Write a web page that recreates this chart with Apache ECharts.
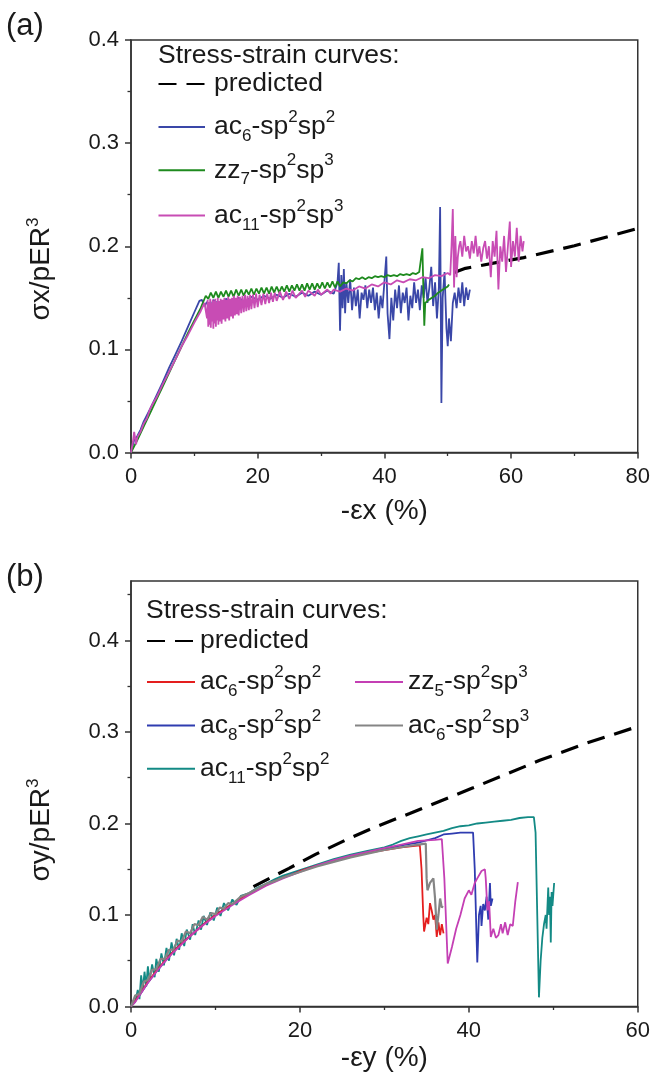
<!DOCTYPE html>
<html><head><meta charset="utf-8">
<script src="https://cdn.jsdelivr.net/npm/echarts@6/dist/echarts.min.js"></script>
<style>html,body{margin:0;padding:0;background:#fff}#c{width:653px;height:1089px}</style>
</head><body><div id="c"></div>
<script>
// ---------------- DATA ----------------
const xTicksA = [0, 20, 40, 60, 80];
const yTicksA = [0, 0.1, 0.2, 0.3, 0.4];
const xTicksB = [0, 20, 40, 60];
const yTicksB = [0, 0.1, 0.2, 0.3, 0.4];
const yMinorB = [0.05, 0.15, 0.25, 0.35, 0.45];

// panel (a)
const predictedA = [[51,0.1745],[52.8,0.1786],[62,0.189],[70,0.2005],[80,0.2172]];
const ac6A = [[0,0],[0.5,0.012],[1,0.016],[1.5,0.022],[2,0.03],[3,0.042],[4,0.055],[5,0.068],[6,0.082],[7,0.095],[8,0.108],[9,0.122],[10,0.136],[10.8,0.147],[11.2,0.148],[11.6,0.142],
 [12,0.146],[12.5,0.14],[13,0.148],[14,0.143],[15,0.149],[16,0.145],[17,0.15],[18,0.146],[19,0.151],[20,0.148],[21,0.152],[22,0.149],[23,0.153],[24,0.15],[25,0.154],[26,0.151],[27,0.155],[28,0.152],[29,0.156],[30,0.153],[31,0.157],[32,0.154],
 [32.6,0.165],[32.8,0.184],[33,0.118],[33.2,0.172],[33.4,0.14],[33.6,0.178],[33.8,0.135],[34,0.165],[34.3,0.145],[34.6,0.168],[34.9,0.138],[35.2,0.16],[35.5,0.142],[35.8,0.158],[36.1,0.13],[36.4,0.155],[36.7,0.148],[37,0.162],[37.3,0.14],[37.6,0.158],[37.9,0.145],[38.2,0.16],[38.5,0.138],[38.8,0.155],[39.1,0.13],[39.4,0.152],[39.7,0.14],[40,0.165],[40.3,0.19],[40.5,0.135],[40.8,0.11],[41.1,0.15],[41.4,0.128],[41.7,0.158],[42,0.14],[42.3,0.162],[42.6,0.135],[42.9,0.155],[43.2,0.145],[43.5,0.16],[43.8,0.128],[44.1,0.152],[44.4,0.14],[44.7,0.165],[45,0.145],[45.3,0.158],[45.6,0.138],[45.9,0.162],[46.2,0.15],[46.5,0.17],[46.8,0.145],[47.1,0.16],[47.4,0.18],[47.7,0.142],[48,0.165],[48.3,0.13],[48.6,0.16],[48.8,0.238],[49,0.048],[49.2,0.15],[49.5,0.175],[49.8,0.12],[50,0.103],[50.2,0.13],[50.5,0.108],[50.8,0.145],[51.1,0.155],[51.4,0.14],[51.7,0.16],[52,0.145],[52.3,0.165],[52.6,0.142],[52.9,0.16],[53.2,0.148],[53.5,0.158]];
const zz7A = [[0,0],[1,0.012],[2,0.025],[3,0.038],[4,0.051],[5,0.064],[6,0.077],[7,0.09],[8,0.103],[9,0.116],[10,0.128],[11,0.14],[11.8,0.152],
 [12.2,0.149],[12.6,0.155],[13,0.15],[13.4,0.156],[13.8,0.15],[14.2,0.156],[14.6,0.151],[15,0.157],[15.4,0.151],[15.8,0.157],[16.2,0.151],[16.6,0.158],[17,0.152],[17.4,0.158],[17.8,0.152],[18.2,0.158],[18.6,0.153],[19,0.159],[19.4,0.153],[19.8,0.159],[20.2,0.154],[20.6,0.16],[21,0.154],[21.4,0.16],[21.8,0.154],[22.2,0.161],[22.6,0.155],[23,0.161],[23.4,0.155],[23.8,0.161],[24.2,0.156],[24.6,0.162],[25,0.156],[25.4,0.162],[25.8,0.157],[26.2,0.163],[26.6,0.157],[27,0.163],[27.4,0.157],[27.8,0.164],[28.2,0.158],[28.6,0.164],[29,0.158],[29.4,0.164],[29.8,0.159],[30.2,0.165],[30.6,0.159],[31,0.165],[31.4,0.16],[31.8,0.166],[32.2,0.16],[32.6,0.166],[33,0.161],[33.5,0.165],[34,0.164],[34.5,0.167],[35,0.166],[35.5,0.169],[36,0.168],[36.5,0.17],[37,0.168],[37.5,0.17],[38,0.169],[38.5,0.171],[39,0.17],[39.5,0.171],[40,0.17],[40.5,0.172],[41,0.171],[41.5,0.172],[42,0.171],[42.5,0.173],[43,0.172],[43.5,0.173],[44,0.172],[44.5,0.174],[45,0.173],[45.5,0.175],[45.8,0.174],[46,0.198],[46.15,0.16],[46.3,0.123],[46.45,0.145],[47,0.148],[47.5,0.15],[48,0.152],[48.5,0.155],[49,0.157],[49.5,0.159],[50,0.161],[50.2,0.163]];
const ac11A = [[0,0],[0.3,0.01],[0.5,0.02],[0.8,0.008],[1,0.015],[1.5,0.02],[2,0.028],[2.5,0.033],[3,0.042],[3.5,0.048],[4,0.053],[5,0.066],[6,0.078],[7,0.09],[8,0.103],[9,0.114],[10,0.126],[11,0.137],[11.6,0.145],
 [12,0.13],[12.1,0.148],[12.2,0.122],[12.3,0.146],[12.4,0.124],[12.5,0.149],[12.6,0.121],[12.7,0.145],[12.8,0.127],[12.9,0.148],[13,0.12],[13.1,0.147],[13.2,0.125],[13.3,0.149],[13.4,0.122],[13.5,0.146],[13.6,0.128],[13.7,0.15],[13.8,0.124],[13.9,0.147],[14,0.127],[14.15,0.149],[14.3,0.125],[14.45,0.148],[14.6,0.129],[14.75,0.15],[14.9,0.127],[15.05,0.148],[15.2,0.13],[15.35,0.151],[15.5,0.128],[15.65,0.149],[15.8,0.132],[15.95,0.15],[16.1,0.13],[16.25,0.152],[16.4,0.133],[16.55,0.15],[16.7,0.134],[16.85,0.152],[17,0.133],[17.2,0.151],[17.4,0.135],[17.6,0.152],[17.8,0.136],[18,0.153],[18.2,0.137],[18.4,0.152],[18.6,0.138],[18.8,0.153],[19,0.139],[19.25,0.153],[19.5,0.14],[19.75,0.154],[20,0.141],[20.3,0.153],[20.6,0.143],[20.9,0.154],[21.2,0.144],[21.5,0.154],[21.8,0.145],[22.1,0.155],[22.4,0.146],[22.7,0.155],[23,0.147],[23.5,0.156],[24,0.148],[24.5,0.156],[25,0.149],[25.5,0.157],[26,0.15],[27,0.157],[27.5,0.151],[28,0.157],[29,0.152],[29.5,0.158],[30,0.153],[31,0.158],[31.5,0.154],[32,0.158],[33,0.156],[34,0.159],[35,0.157],[36,0.161],[37,0.159],[38,0.163],[39,0.161],[40,0.165],[41,0.163],[42,0.167],[43,0.165],[44,0.168],[45,0.167],[46,0.17],[47,0.169],[48,0.172],[49,0.171],[50,0.174],[50.4,0.172],[50.6,0.2],[50.8,0.236],[51,0.16],[51.2,0.21],[51.4,0.17],[51.6,0.19],[51.8,0.2],[52,0.205],[52.3,0.19],[52.6,0.21],[52.9,0.195],[53.2,0.2],[53.5,0.188],[53.8,0.205],[54.1,0.193],[54.4,0.21],[54.7,0.19],[55,0.2],[55.3,0.185],[55.6,0.198],[55.9,0.205],[56.2,0.188],[56.5,0.2],[56.8,0.17],[57.1,0.205],[57.4,0.19],[57.7,0.215],[58,0.158],[58.3,0.2],[58.6,0.185],[58.9,0.21],[59.2,0.175],[59.5,0.2],[59.8,0.224],[60,0.18],[60.3,0.205],[60.6,0.19],[60.9,0.218],[61.2,0.185],[61.5,0.21],[61.8,0.195],[62,0.205]];

// panel (b)
const predictedB = [[14.5,0.131],[18.7,0.151],[21.9,0.1665],[25.8,0.1836],[28.5,0.1945],[33,0.211],[40.5,0.239],[48.4,0.269],[54,0.288],[60,0.306]];
const ac11B = [[0,0],[0.5,0.005],[0.8,0.018],[1,0.008],[1.2,0.034],[1.4,0.018],[1.6,0.038],[1.8,0.022],[2,0.044],[2.2,0.028],[2.5,0.046],[2.8,0.032],[3,0.052],[3.3,0.038],[3.6,0.058],[3.9,0.045],[4.2,0.064],[4.5,0.05],[4.8,0.07],[5.1,0.056],[5.4,0.074],[5.7,0.062],[6,0.08],[6.3,0.066],[6.6,0.084],[7,0.073],[7.3,0.09],[7.6,0.078],[8,0.094],[8.3,0.084],[8.6,0.099],[9,0.089],[9.4,0.103],[9.8,0.094],[10.2,0.108],[10.6,0.099],[11,0.113],[11.5,0.105],[12,0.117],[12.5,0.111],[13,0.121],[14,0.124],[15,0.13],[16,0.134],[17,0.139],[18,0.143],[19,0.146],[20,0.149],[22,0.155],[24,0.161],[26,0.166],[28,0.17],[30,0.174],[31,0.177],[32,0.181],[33,0.184],[34,0.186],[35,0.188],[36,0.19],[37,0.192],[38,0.195],[39,0.197],[40,0.198],[41,0.2],[42,0.201],[43,0.202],[44,0.203],[45,0.204],[46,0.206],[47,0.207],[47.7,0.207],[47.9,0.19],[48.1,0.1],[48.3,0.01],[48.5,0.05],[48.7,0.075],[48.9,0.09],[49.1,0.1],[49.2,0.085],[49.4,0.13],[49.5,0.1],[49.6,0.12],[49.7,0.07],[49.8,0.125],[49.9,0.11],[50.1,0.135]];
const ac8B = [[0,0],[1,0.012],[2,0.026],[3,0.038],[4,0.049],[5,0.06],[6,0.069],[7,0.077],[8,0.085],[9,0.093],[10,0.1],[12,0.112],[14,0.123],[16,0.133],[18,0.141],[20,0.148],[22,0.154],[24,0.159],[26,0.164],[28,0.168],[30,0.172],[32,0.176],[34,0.179],[36,0.184],[37,0.188],[38,0.189],[39,0.19],[40.5,0.19],[40.7,0.15],[40.9,0.08],[41,0.048],[41.2,0.1],[41.4,0.11],[41.5,0.088],[41.7,0.112],[41.9,0.105],[42.1,0.12],[42.3,0.095],[42.5,0.135],[42.6,0.11],[42.8,0.118]];
const ac6B = [[0,0],[0.5,0.006],[1,0.013],[1.5,0.02],[2,0.027],[3,0.039],[4,0.05],[5,0.06],[6,0.069],[7,0.077],[8,0.085],[9,0.093],[10,0.1],[11,0.106],[12,0.112],[13,0.118],[14,0.123],[15,0.128],[16,0.133],[17,0.137],[18,0.141],[19,0.144],[20,0.148],[22,0.154],[24,0.159],[26,0.164],[28,0.168],[30,0.171],[32,0.174],[34.2,0.176],[34.4,0.15],[34.6,0.1],[34.7,0.082],[35,0.097],[35.2,0.09],[35.4,0.113],[35.6,0.105],[35.8,0.095],[36,0.1],[36.2,0.076],[36.4,0.092],[36.6,0.078],[36.8,0.09],[37,0.08]];
const zz5B = [[0,0],[0.5,0.005],[1,0.012],[2,0.026],[3,0.038],[4,0.049],[5,0.059],[6,0.068],[7,0.077],[8,0.085],[9,0.092],[10,0.099],[12,0.111],[14,0.122],[16,0.132],[18,0.14],[20,0.147],[22,0.154],[24,0.16],[26,0.165],[28,0.169],[30,0.173],[32,0.177],[34,0.181],[36,0.182],[36.8,0.183],[37.1,0.14],[37.5,0.047],[38,0.065],[38.5,0.085],[39,0.1],[39.5,0.118],[40,0.127],[40.3,0.122],[40.7,0.135],[41,0.14],[41.5,0.148],[41.9,0.15],[42,0.14],[42.2,0.105],[42.4,0.115],[42.6,0.076],[42.9,0.085],[43.2,0.075],[43.5,0.078],[43.8,0.09],[44,0.08],[44.3,0.092],[44.6,0.078],[44.9,0.09],[45.2,0.088],[45.5,0.115],[45.8,0.136]];
const ac6sp3B = [[0,0],[0.5,0.012],[1,0.014],[1.5,0.027],[2,0.029],[2.5,0.04],[3,0.041],[3.5,0.052],[4,0.052],[4.5,0.062],[5,0.062],[5.5,0.072],[6,0.071],[6.5,0.082],[7,0.08],[7.5,0.09],[8,0.089],[8.5,0.098],[9,0.095],[9.5,0.102],[10,0.101],[10.5,0.108],[11,0.107],[11.5,0.113],[12,0.112],[13,0.12],[14,0.124],[15,0.129],[16,0.134],[17,0.137],[18,0.141],[20,0.147],[22,0.153],[24,0.158],[26,0.163],[28,0.167],[30,0.171],[32,0.174],[34,0.177],[34.9,0.178],[35,0.14],[35.1,0.127],[35.4,0.135],[35.8,0.14],[36,0.118],[36.2,0.084],[36.4,0.1],[36.6,0.118],[36.8,0.108],[36.9,0.11]];

// ---------------- STYLE ----------------
const FONT = "'Liberation Sans', Arial, sans-serif";
const INK = '#1a1a1a';
const AX = '#333333';
const C = {blueA:'#3a47a8', greenA:'#1e8a1e', magA:'#c84cb4', red:'#e41e1e', mag:'#c43fb4', blueB:'#2f3cb0', gray:'#858585', teal:'#138a85'};
const LF = 26.5;   // legend font size
const TF = 22;     // tick font size

const rich = {
  n: {fontSize: LF, lineHeight: 36, fontFamily: FONT, color: INK},
  s: {fontSize: 17, lineHeight: 16, fontFamily: FONT, color: INK, verticalAlign: 'bottom'},
  p: {fontSize: 17, lineHeight: 16, fontFamily: FONT, color: INK, verticalAlign: 'top'}
};
const LABEL = {
  'predicted': '{n|predicted}',
  'ac6-sp2sp2': '{n|ac}{s|6}{n|-sp}{p|2}{n|sp}{p|2}',
  'zz7-sp2sp3': '{n|zz}{s|7}{n|-sp}{p|2}{n|sp}{p|3}',
  'ac11-sp2sp3': '{n|ac}{s|11}{n|-sp}{p|2}{n|sp}{p|3}',
  'predicted ': '{n|predicted}',
  'ac6-sp2sp2 ': '{n|ac}{s|6}{n|-sp}{p|2}{n|sp}{p|2}',
  'zz5-sp2sp3': '{n|zz}{s|5}{n|-sp}{p|2}{n|sp}{p|3}',
  'ac8-sp2sp2': '{n|ac}{s|8}{n|-sp}{p|2}{n|sp}{p|2}',
  'ac6-sp2sp3': '{n|ac}{s|6}{n|-sp}{p|2}{n|sp}{p|3}',
  'ac11-sp2sp2': '{n|ac}{s|11}{n|-sp}{p|2}{n|sp}{p|2}'
};

function line(name, data, color, gi, z, width) {
  return {name, type:'line', data, xAxisIndex: gi, yAxisIndex: gi, symbol:'none', showSymbol:false,
    lineStyle:{color, width: width || 1.8}, itemStyle:{color}, z, animation:false, silent:true};
}
function dashed(name, data, gi) {
  return {name, type:'line', data, xAxisIndex: gi, yAxisIndex: gi, symbol:'none', showSymbol:false,
    lineStyle:{color:'#000', width:3.2, type:[18,10]}, itemStyle:{color:'#000'}, z:1, animation:false, silent:true};
}
function leg(name, left, cy, w, pad) {
  return {data:[name], left, top: cy - 18, orient:'vertical', padding:0, itemWidth: w, itemHeight: 2,
    selectedMode:false, formatter: n => LABEL[n], itemStyle:{opacity:0, borderWidth:0},
    textStyle:{fontSize:LF, fontFamily:FONT, color:INK, rich, padding:[0,0,0,pad]}};
}
function xAxis(gi, max, ticks) {
  return {gridIndex: gi, type:'value', min:0, max, interval:20,
    axisLine:{show:true, onZero:false, lineStyle:{color:AX, width:1.5}},
    axisTick:{show:true, length:6, lineStyle:{color:AX, width:1.5}},
    minorTick:{show:true, splitNumber:2, length:3.5, lineStyle:{color:AX, width:1.3}},
    splitLine:{show:false}, minorSplitLine:{show:false},
    axisLabel:{fontSize:TF, fontFamily:FONT, color:INK, margin:13, customValues: ticks, formatter: v => String(v)}};
}
const GA = {left:131, top:40, width:508, height:412.5};
const GB = {left:131, top:581, width:508, height:425.5};
const gridStyle = {show:true, borderColor:AX, borderWidth:1.5, backgroundColor:'transparent', containLabel:false};
const titleFont = {fontSize:28, fontFamily:FONT, color:INK, verticalAlign:'middle', lineHeight:32};

const option = {
  backgroundColor:'#fff',
  animation:false,
  grid:[Object.assign({}, GA, gridStyle), Object.assign({}, GB, gridStyle)],
  xAxis:[
    Object.assign(xAxis(0, 80, xTicksA), {name:'-εx (%)', nameLocation:'middle', nameGap:58.5, nameTextStyle:titleFont}),
    Object.assign(xAxis(1, 60, xTicksB), {name:'-εy (%)', nameLocation:'middle', nameGap:52, nameTextStyle:titleFont})
  ],
  yAxis:[
    {gridIndex:0, type:'value', min:0, max:0.4, interval:0.1,
      axisLine:{show:true, onZero:false, lineStyle:{color:AX, width:1.5}},
      axisTick:{show:true, length:6, lineStyle:{color:AX, width:1.5}},
      minorTick:{show:true, splitNumber:2, length:3.5, lineStyle:{color:AX, width:1.3}},
      splitLine:{show:false},
      axisLabel:{fontSize:TF, fontFamily:FONT, color:INK, margin:12, customValues: yTicksA, formatter: v => v.toFixed(1)}},
    {gridIndex:1, type:'value', min:0, max:0.465, interval:0.1,
      axisLine:{show:true, onZero:false, lineStyle:{color:AX, width:1.5}},
      axisTick:{show:true, length:6, customValues: yTicksB, lineStyle:{color:AX, width:1.5}},
      splitLine:{show:false},
      axisLabel:{fontSize:TF, fontFamily:FONT, color:INK, margin:12, customValues: yTicksB,
        formatter: v => (v > 0.41 ? '' : v.toFixed(1))}},
    {gridIndex:1, type:'value', min:0, max:0.465, position:'left',
      axisLine:{show:false}, axisLabel:{show:false}, splitLine:{show:false},
      axisTick:{show:true, length:3.5, customValues: yMinorB, lineStyle:{color:AX, width:1.3}}}
  ],
  title:[
    {text:'(a)', left:6, top:9, padding:0, textStyle:{fontSize:31, fontWeight:'normal', fontFamily:FONT, color:INK, lineHeight:34}},
    {text:'(b)', left:6, top:560, padding:0, textStyle:{fontSize:31, fontWeight:'normal', fontFamily:FONT, color:INK, lineHeight:34}},
    {text:'Stress-strain curves:', left:158, top:40.6, padding:0, textStyle:{fontSize:LF, fontWeight:'normal', fontFamily:FONT, color:INK, lineHeight:30}},
    {text:'Stress-strain curves:', left:146, top:596, padding:0, textStyle:{fontSize:LF, fontWeight:'normal', fontFamily:FONT, color:INK, lineHeight:30}}
  ],
  legend:[
    leg('predicted', 157.5, 88.6, 46.5, 4),
    leg('ac6-sp2sp2', 157.5, 126.9, 46.5, 4),
    leg('zz7-sp2sp3', 157.5, 170.3, 46.5, 4),
    leg('ac11-sp2sp3', 157.5, 215.5, 46.5, 4),
    leg('predicted ', 146, 645.6, 48, 0),
    leg('ac6-sp2sp2 ', 146, 682, 48, 0),
    leg('ac8-sp2sp2', 146, 725.4, 48, 0),
    leg('ac11-sp2sp2', 146, 768.8, 48, 0),
    leg('zz5-sp2sp3', 354, 682, 48, 0),
    leg('ac6-sp2sp3', 354, 725.4, 48, 0)
  ],
  graphic:[
    {type:'text', x:41.5, y:269, rotation:Math.PI/2, style:{text:'{n|σx/pER}{p|3}', align:'center', verticalAlign:'middle',
      rich:{n:{fontSize:28, lineHeight:34, fontFamily:FONT, fill:INK}, p:{fontSize:17, lineHeight:16, fontFamily:FONT, fill:INK, verticalAlign:'top'}}}},
    {type:'text', x:41.5, y:830, rotation:Math.PI/2, style:{text:'{n|σy/pER}{p|3}', align:'center', verticalAlign:'middle',
      rich:{n:{fontSize:28, lineHeight:34, fontFamily:FONT, fill:INK}, p:{fontSize:17, lineHeight:16, fontFamily:FONT, fill:INK, verticalAlign:'top'}}}}
  ],
  series:[
    dashed('predicted', predictedA, 0),
    line('ac6-sp2sp2', ac6A, C.blueA, 0, 2),
    line('zz7-sp2sp3', zz7A, C.greenA, 0, 3),
    line('ac11-sp2sp3', ac11A, C.magA, 0, 4),
    dashed('predicted ', predictedB, 1),
    line('ac11-sp2sp2', ac11B, C.teal, 1, 2),
    line('ac8-sp2sp2', ac8B, C.blueB, 1, 3),
    line('ac6-sp2sp2 ', ac6B, C.red, 1, 4),
    line('zz5-sp2sp3', zz5B, C.mag, 1, 5),
    line('ac6-sp2sp3', ac6sp3B, C.gray, 1, 6, 2.2)
  ]
};
const chart = echarts.init(document.getElementById('c'), null, {renderer:'canvas'});
chart.setOption(option);
</script></body></html>
